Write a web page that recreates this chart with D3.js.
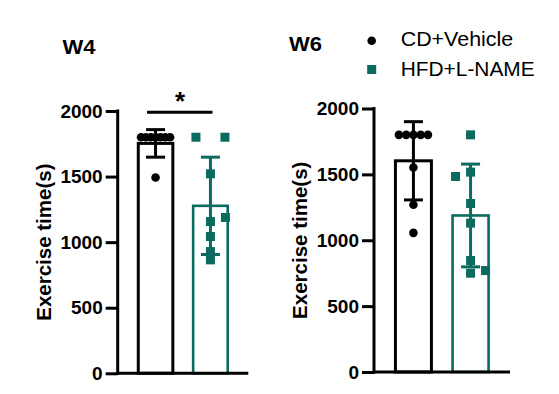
<!DOCTYPE html>
<html>
<head>
<meta charset="utf-8">
<script src="https://cdn.jsdelivr.net/npm/d3@7"></script>
<style>
  html, body { margin: 0; padding: 0; background: #fff; }
  svg { display: block; }
  text { font-family: "Liberation Sans", Arial, sans-serif; }
</style>
</head>
<body>
<div id="chart"></div>
<script>
// ---------------- data ----------------
const categories = ["CD+Vehicle", "HFD+L-NAME"];
const panelTitles = ["W4", "W6"];
const yTicks = [0, 500, 1000, 1500, 2000];
const yLabel = "Exercise time(s)";

const w4Means = [1753, 1277];
const w4SDs = [105, 371];
const w4CD = [1800, 1800, 1800, 1800, 1800, 1800, 1800, 1493];
const w4HFD = [1800, 1800, 1521, 1157, 1188, 1043, 928, 865];

const w6Means = [1603, 1188];
const w6SDs = [297, 390];
const w6CD = [1800, 1800, 1800, 1800, 1800, 1552, 1269, 1056];
const w6HFD = [1800, 1517, 1484, 1279, 1130, 846, 750, 770];

const significance = ["*", null];

// ---------------- styles ----------------
const colors = ["#000000", "#0b6b5e"];
const W = 559, H = 394;

const svg = d3.select("#chart").append("svg")
  .attr("width", W).attr("height", H);

const panels = [
  { title: panelTitles[0], means: w4Means, sds: w4SDs, pts: [w4CD, w4HFD], sig: significance[0],
    xr: [117.7, 248.3], yr: [373.3, 111], titleX: 62.5, titleY: 54, labelX: 51 },
  { title: panelTitles[1], means: w6Means, sds: w6SDs, pts: [w6CD, w6HFD], sig: significance[1],
    xr: [374, 510], yr: [372, 108.5], titleX: 289, titleY: 51, labelX: 306.5 }
];

let collisionCount = 0;

panels.forEach(p => {
  const g = svg.append("g");
  const x = d3.scalePoint().domain(categories).range(p.xr).padding(0.69);
  const y = d3.scaleLinear().domain([0, 2000]).range(p.yr);
  const step = x.step();
  const bw = step * 0.63;

  // bars
  g.selectAll("rect.bar").data(categories).join("rect")
    .attr("class", "bar")
    .attr("x", d => x(d) - bw / 2)
    .attr("width", bw)
    .attr("y", (d, i) => y(p.means[i]))
    .attr("height", (d, i) => y(0) - y(p.means[i]))
    .attr("fill", "none")
    .attr("stroke", (d, i) => colors[i])
    .attr("stroke-width", (d, i) => i === 0 ? 3 : 2.6);

  // points
  categories.forEach((c, ci) => {
    const vals = p.pts[ci];
    const counts = d3.rollup(vals, v => v.length, v => v);
    const placed = [];
    const seen = new Map();
    vals.forEach(v => {
      const n = counts.get(v);
      let off = 0;
      if (n > 1) {
        const k = seen.get(v) || 0;
        seen.set(v, k + 1);
        off = -14.5 + 29 * k / (n - 1);
      } else {
        const collides = placed.some(q => Math.abs(q.off) < 1 && Math.abs(y(q.v) - y(v)) < 7.5);
        if (collides) {
          off = (collisionCount % 2 === 0 ? 1 : -1) * 15;
          collisionCount++;
        }
      }
      placed.push({ v, off });
    });
    const cx = x(c);
    if (ci === 0) {
      g.selectAll("circle.pt" + ci).data(placed).join("circle")
        .attr("cx", d => cx + d.off).attr("cy", d => y(d.v))
        .attr("r", 4.3).attr("fill", colors[ci]);
    } else {
      const s = 9;
      g.selectAll("rect.pt" + ci).data(placed).join("rect")
        .attr("x", d => cx + d.off - s / 2).attr("y", d => y(d.v) - s / 2)
        .attr("width", s).attr("height", s).attr("fill", colors[ci]);
    }
  });

  // error bars
  categories.forEach((c, ci) => {
    const cx = x(c);
    const m = p.means[ci], sd = p.sds[ci];
    const eg = g.append("g").attr("stroke", colors[ci]).attr("stroke-width", 3);
    eg.append("line").attr("x1", cx).attr("x2", cx).attr("y1", y(m + sd)).attr("y2", y(m - sd));
    [m + sd, m - sd].forEach(v => {
      eg.append("line").attr("x1", cx - 9.5).attr("x2", cx + 9.5).attr("y1", y(v)).attr("y2", y(v));
    });
  });

  // y axis
  const ya = g.append("g")
    .attr("transform", `translate(${p.xr[0]},0)`)
    .call(d3.axisLeft(y).tickValues(yTicks).tickSize(12).tickSizeOuter(0).tickPadding(3).tickFormat(d3.format("d")));
  ya.select(".domain").attr("stroke", "#000").attr("stroke-width", 3)
    .attr("d", `M0,${p.yr[1] - 1.5}V${p.yr[0] + 1.5}`);
  ya.selectAll(".tick line").attr("stroke", "#000").attr("stroke-width", 3);
  ya.selectAll(".tick text")
    .attr("font-size", 19).attr("font-weight", "bold").attr("fill", "#000")
    .attr("font-family", '"Liberation Sans", Arial, sans-serif');

  // x axis line
  g.append("line")
    .attr("x1", p.xr[0] - 1.5).attr("x2", p.xr[1])
    .attr("y1", y(0)).attr("y2", y(0))
    .attr("stroke", "#000").attr("stroke-width", 3);

  // y label
  g.append("text")
    .attr("transform", `translate(${p.labelX},${(p.yr[0] + p.yr[1]) / 2}) rotate(-90)`)
    .attr("text-anchor", "middle")
    .attr("font-size", 20.5).attr("font-weight", "bold")
    .text(yLabel);

  // title
  g.append("text")
    .attr("x", p.titleX).attr("y", p.titleY)
    .attr("font-size", 21).attr("font-weight", "bold")
    .attr("textLength", 33).attr("lengthAdjust", "spacingAndGlyphs")
    .text(p.title);

  // significance
  if (p.sig) {
    const x1 = x(categories[0]) - 8.5, x2 = x(categories[1]) + 2;
    g.append("line").attr("x1", x1).attr("x2", x2)
      .attr("y1", 112.3).attr("y2", 112.3)
      .attr("stroke", "#000").attr("stroke-width", 3);
    g.append("text")
      .attr("x", (x(categories[0]) + x(categories[1])) / 2 - 3)
      .attr("y", 110)
      .attr("text-anchor", "middle")
      .attr("font-size", 26).attr("font-weight", "bold")
      .text(p.sig);
  }
});

// legend
const legend = svg.append("g");
const legendY = [40.7, 69.5];
categories.forEach((c, i) => {
  if (i === 0) {
    legend.append("circle").attr("cx", 371.7).attr("cy", legendY[i]).attr("r", 4.3).attr("fill", colors[i]);
  } else {
    legend.append("rect").attr("x", 371.7 - 4.5).attr("y", legendY[i] - 4.5)
      .attr("width", 9).attr("height", 9).attr("fill", colors[i]);
  }
  legend.append("text")
    .attr("x", 400.7).attr("y", legendY[i] + 5.5 + i * 1)
    .attr("font-size", 19.5)
    .attr("textLength", i === 0 ? 112.5 : 134)
    .attr("lengthAdjust", "spacingAndGlyphs")
    .text(c);
});
</script>
</body>
</html>
